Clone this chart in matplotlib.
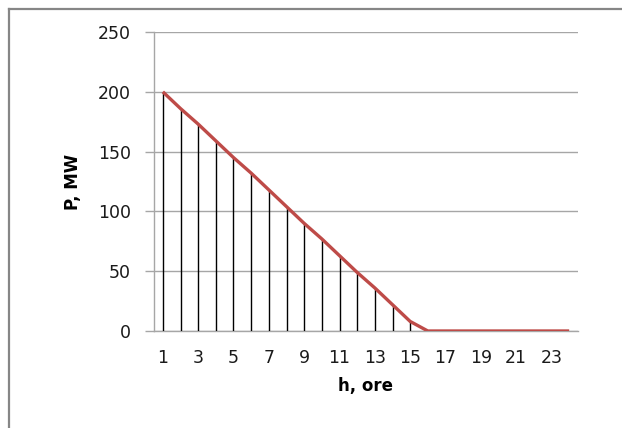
import matplotlib
matplotlib.use("Agg")
import matplotlib.pyplot as plt
from matplotlib.lines import Line2D

# hourly power, MW
hours = list(range(1, 25))
power = [200, 186, 173, 159, 145, 132, 118, 104, 90, 77, 63, 49, 36, 22, 8,
         0, 0, 0, 0, 0, 0, 0, 0, 0]
x_ticks = list(range(1, 24, 2))
y_ticks = [0, 50, 100, 150, 200, 250]

GRID = "#A6A6A6"
FRAME = "#868686"
RED = "#BE4B48"

plt.rcParams["font.family"] = ["DejaVu Sans"]

W, H = 622, 428
fig = plt.figure(figsize=(W / 100, H / 100), dpi=100)

# chart frame (only top and left edges visible in the crop)
fig.add_artist(Line2D([9 / W, 1], [1 - 9 / H, 1 - 9 / H], color=FRAME, lw=1.6,
                      transform=fig.transFigure))
fig.add_artist(Line2D([9 / W, 9 / W], [0, 1 - 9 / H], color=FRAME, lw=1.6,
                      transform=fig.transFigure))

left, right, top, bottom = 154, 578, 32, 331
ax = fig.add_axes([left / W, 1 - bottom / H, (right - left) / W, (bottom - top) / H])

ax.vlines(hours, 0, power, color="black", lw=1, zorder=3)
ax.plot(hours, power, color=RED, lw=2.4, solid_capstyle="butt", zorder=4)

ax.set_xlim(0.5, 24.5)
ax.set_ylim(0, 250)
ax.set_xticks(x_ticks)
ax.set_xticklabels([str(t) for t in x_ticks])
ax.set_yticks(y_ticks)

ax.grid(axis="y", color=GRID, lw=1)
ax.set_axisbelow(True)
for s in ["top", "right"]:
    ax.spines[s].set_visible(False)
for s in ["left", "bottom"]:
    ax.spines[s].set_color(GRID)
    ax.spines[s].set_linewidth(1)

ax.tick_params(axis="y", length=6.2, width=1, color=GRID, pad=10.5,
               labelsize=12.5, labelcolor="#1a1a1a")
ax.tick_params(axis="x", length=0, pad=13, labelsize=12.5, labelcolor="#1a1a1a")

ax.set_xlabel("h, ore", fontsize=12, fontweight="bold", va="center")
ax.xaxis.set_label_coords(0.5, (bottom - 386) / (bottom - top))
ax.set_ylabel("P, MW", fontsize=12, fontweight="bold", va="center")
ax.yaxis.set_label_coords((73 - left) / (right - left), 0.5)

fig.savefig("out.png", dpi=100)
